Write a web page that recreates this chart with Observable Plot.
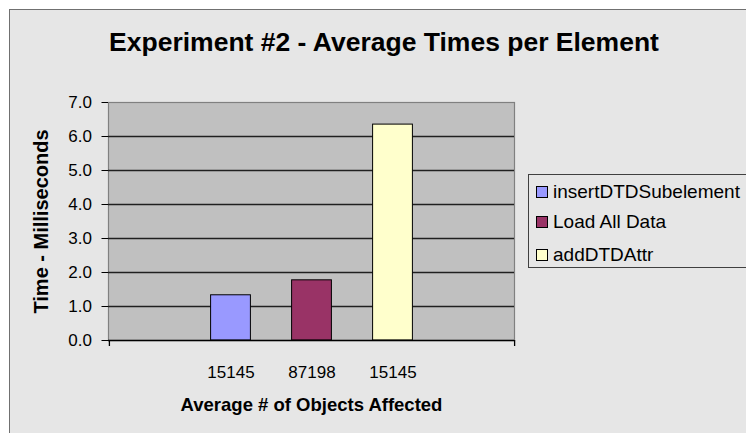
<!DOCTYPE html>
<html>
<head>
<meta charset="utf-8">
<script src="https://cdn.jsdelivr.net/npm/d3@7"></script>
<script src="https://cdn.jsdelivr.net/npm/@observablehq/plot@0.6"></script>
<style>
  html, body { margin: 0; padding: 0; background: #ffffff; }
  #wrap { position: relative; width: 746px; height: 433px; overflow: hidden; font-family: "Liberation Sans", Arial, sans-serif; }
  #bg { position: absolute; left: 9px; top: 9px; width: 760px; height: 440px; background: #e6e6e6; border: 1px solid #707070; box-sizing: border-box; }
  #chart { position: absolute; left: 0; top: 0; }
  #title { position: absolute; left: 0; width: 768px; top: 29.3px; text-align: center; font-weight: bold; font-size: 26.5px; line-height: 1; color: #000; white-space: nowrap; }
  #legend { position: absolute; left: 528px; top: 174px; width: 240px; height: 94px; border: 1px solid #404040; box-sizing: border-box; }
  .txt { position: absolute; left: 24px; font-size: 19px; line-height: 1; color: #000; white-space: nowrap; }
  .sw { position: absolute; left: 7px; width: 12px; height: 12px; border: 1px solid #000; box-sizing: border-box; }
</style>
</head>
<body>
<div id="wrap">
  <div id="bg"></div>
  <div id="chart"></div>
  <div id="title">Experiment #2 - Average Times per Element</div>
  <div id="legend"></div>
</div>
<script>
const slots = ["s0", "s1", "s2", "s3", "s4"];
const slotLabels = ["", "15145", "87198", "15145", ""];
const series = ["insertDTDSubelement", "Load All Data", "addDTDAttr"];
const barSlots = ["s1", "s2", "s3"];
const values = [1.33, 1.77, 6.35];
const colors = ["#9999ff", "#993366", "#ffffcc"];
const yTicks = [0, 1, 2, 3, 4, 5, 6, 7];

const data = series.map((s, i) => ({series: s, slot: barSlots[i], value: values[i], color: colors[i]}));
const labelOf = new Map(slots.map((s, i) => [s, slotLabels[i]]));

const chart = Plot.plot({
  width: 746,
  height: 433,
  marginLeft: 108,
  marginRight: 232,
  marginTop: 102,
  marginBottom: 93,
  style: {fontFamily: "'Liberation Sans', Arial, sans-serif", fontSize: "17px", color: "#000", background: "transparent"},
  x: {type: "band", domain: slots, padding: 0, axis: null},
  y: {domain: [0, 7], axis: null},
  marks: [
    Plot.frame({fill: "#c0c0c0", stroke: "#808080", strokeWidth: 1.2}),
    Plot.ruleY(yTicks.filter(d => d > 0 && d < 7), {stroke: "#202020", strokeWidth: 1.3}),
    Plot.barY(data, {x: "slot", y: "value", fill: "color", stroke: "#000", strokeWidth: 1, insetLeft: 20.6, insetRight: 20.6}),
    Plot.axisY({ticks: yTicks, tickFormat: d3.format(".1f"), tickSize: 6.5, tickPadding: 10, label: null, fontSize: 17, stroke: "#000"}),
    Plot.ruleX([0], {frameAnchor: "left", stroke: "#505050", strokeWidth: 1.3}),
    Plot.ruleX(["s0"], {dx: -40.6, insetTop: 238, insetBottom: -6, stroke: "#000", strokeWidth: 1.3}),
    Plot.ruleX(["s4"], {dx: 40.6, insetTop: 238, insetBottom: -6, stroke: "#000", strokeWidth: 1.3}),
    Plot.ruleY([0], {stroke: "#000", strokeWidth: 1.5}),
    Plot.axisX({ticks: slots, tickFormat: d => labelOf.get(d), tickSize: 0, tickPadding: 25, label: null, fontSize: 17}),
    Plot.text(["Average # of Objects Affected"], {frameAnchor: "bottom", lineAnchor: "middle", textAnchor: "middle", dy: 65, fontWeight: "bold", fontSize: 18.5}),
    Plot.text(["Time - Milliseconds"], {frameAnchor: "left", lineAnchor: "middle", textAnchor: "middle", dx: -67, rotate: -90, fontWeight: "bold", fontSize: 20})
  ]
});
document.getElementById("chart").appendChild(chart);

const legend = document.getElementById("legend");
const baselines = [198.3, 228.3, 261];   // page baselines of legend rows
const fs = 19;
series.forEach((s, i) => {
  const sw = document.createElement("div");
  sw.className = "sw";
  sw.style.top = (baselines[i] - 175 - 12) + "px";
  sw.style.background = colors[i];
  legend.appendChild(sw);
  const t = document.createElement("div");
  t.className = "txt";
  t.style.top = (baselines[i] - 175 - 0.8465 * fs) + "px";
  t.textContent = s;
  legend.appendChild(t);
});
</script>
</body>
</html>
